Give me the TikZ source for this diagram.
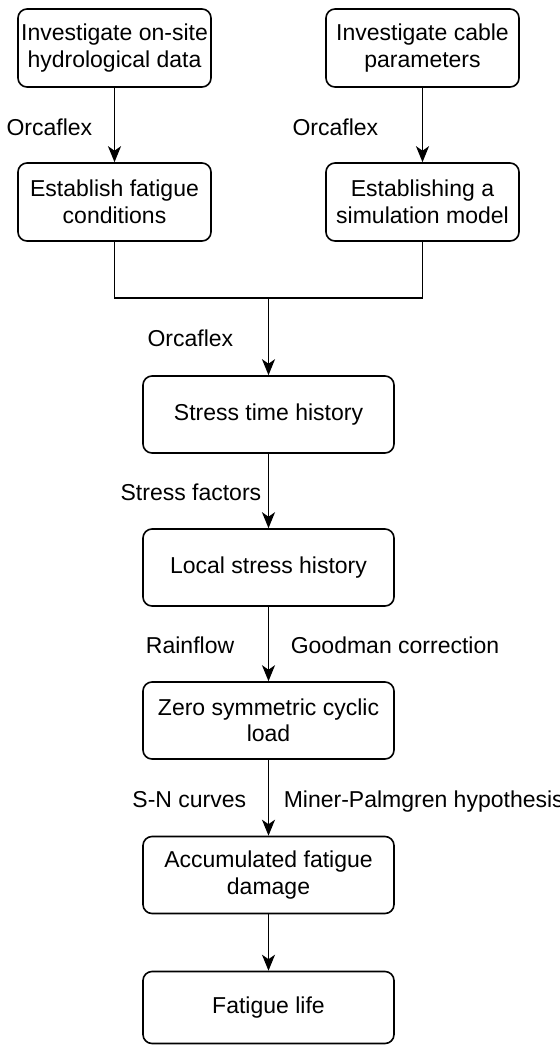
\documentclass[tikz,border=0pt]{standalone}
\usepackage{fontspec}
\setmainfont{Liberation Sans}
\usetikzlibrary{arrows.meta,positioning}

\begin{document}
\begin{tikzpicture}
[x=1pt, y=-1pt, line width=1.6pt, >={Stealth[length=16pt,width=13pt,inset=4.5pt]},
small/.style={rectangle, draw, rounded corners=9pt, align=center, inner sep=0pt, minimum width=193pt, minimum height=78pt, font=\fontsize{23}{26.5}\selectfont},
wide/.style={small, minimum width=251pt, minimum height=77pt},
lbl/.style={inner sep=0pt, font=\fontsize{23}{26.5}\selectfont}]

\useasboundingbox (0,0) rectangle (560,1045);

\node[small] (hydro) at (114.5,48) {Investigate on-site\\hydrological data};
\node[small] (cable) at (422.5,48) {Investigate cable\\parameters};
\node[small] (cond) at (114.5,202) {Establish fatigue\\conditions};
\node[small] (model) at (422.5,202) {Establishing a\\simulation model};

\coordinate (join) at (268.5,298);

\node[wide] (sth) at (268.5,414.5) {Stress time history};
\node[wide] (lsh) at (268.5,567.5) {Local stress history};
\node[wide] (zscl) at (268.5,720.5) {Zero symmetric cyclic\\load};
\node[wide] (afd) at (268.5,875) {Accumulated fatigue\\damage};
\node[wide, minimum height=72pt] (life) at (268.5,1007.5) {Fatigue life};

\node[lbl, anchor=base east] (orca1) at (93,135) {Orcaflex};
\node[lbl, anchor=base east] (orca2) at (379,135) {Orcaflex};
\node[lbl, anchor=base east] (orca3) at (234,346) {Orcaflex};
\node[lbl, anchor=base east] (factors) at (262,500) {Stress factors};
\node[lbl, anchor=base east] (rain) at (235,653) {Rainflow};
\node[lbl, anchor=base west] (goodman) at (290,653) {Goodman correction};
\node[lbl, anchor=base east] (sn) at (247,807) {S-N curves};
\node[lbl, anchor=base west] (miner) at (283,807) {Miner-Palmgren hypothesis};

\draw[->] (hydro) -- (cond);
\draw[->] (cable) -- (model);
\draw (cond) |- (join) -| (model);
\draw[->] (join) -- (sth);
\draw[->] (sth) -- (lsh);
\draw[->] (lsh) -- (zscl);
\draw[->] (zscl) -- (afd);
\draw[->] (afd) -- (life);

\end{tikzpicture}
\end{document}
